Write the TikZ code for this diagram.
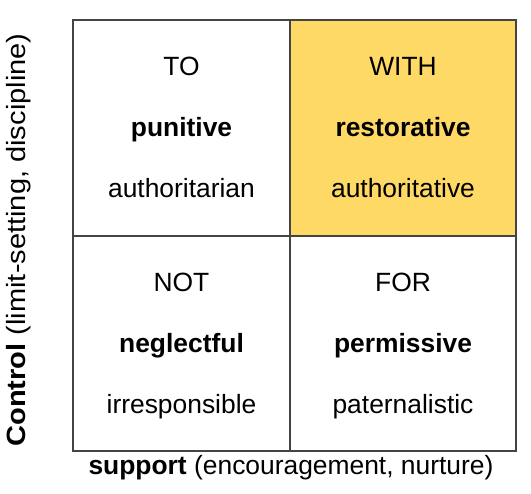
\documentclass[tikz,border=0pt]{standalone}
\usepackage{fontspec}
\setmainfont{Liberation Sans}
\usetikzlibrary{calc}
\definecolor{cellgold}{HTML}{FFD966}
\definecolor{gridline}{HTML}{444444}
\newlength{\Gxa}
\newlength{\Gya}
\newlength{\Gxb}
\newlength{\Gyb}
\newlength{\Gxc}
\newlength{\Gyc}
\setlength{\Gxa}{73pt}
\setlength{\Gya}{-20pt}
\setlength{\Gxb}{290pt}
\setlength{\Gyb}{-236pt}
\setlength{\Gxc}{516pt}
\setlength{\Gyc}{-451pt}
\tikzset{
    word/.style={font=\fontsize{26.4}{30}\selectfont, anchor=base, inner sep=0pt},
    keyword/.style={word, font=\fontsize{26.4}{30}\selectfont\bfseries}
}

\begin{document}
\begin{tikzpicture}

    \useasboundingbox (0pt,0pt) rectangle (531pt,-494pt);

    \coordinate (g0) at (\Gxa,\Gya);
    \coordinate (g1) at (\Gxb,\Gya);
    \coordinate (g2) at (\Gxc,\Gya);
    \coordinate (g3) at (\Gxa,\Gyb);
    \coordinate (g4) at (\Gxb,\Gyb);
    \coordinate (g5) at (\Gxc,\Gyb);
    \coordinate (g6) at (\Gxa,\Gyc);
    \coordinate (g7) at (\Gxb,\Gyc);
    \coordinate (g8) at (\Gxc,\Gyc);

    % the highlighted quadrant
    \fill[cellgold] (g1) rectangle (g5);

    \draw[gridline, line width=1.5pt] (g0) rectangle (g8);
    \draw[gridline, line width=1.5pt] (g1) -- (g7);
    \draw[gridline, line width=1.5pt] (g3) -- (g5);

    % top row
    \node[word]    (to)            at (181.5pt,-76pt)  {TO};
    \node[keyword] (punitive)      at (181.5pt,-137pt) {punitive};
    \node[word]    (authoritarian) at (181.5pt,-198pt) {authoritarian};
    \node[word]    (with)          at (403pt,-76pt)    {WITH};
    \node[keyword] (restorative)   at (403pt,-137pt)   {restorative};
    \node[word]    (authoritative) at (403pt,-198pt)   {authoritative};

    % bottom row
    \node[word]    (not)           at (181.5pt,-292pt) {NOT};
    \node[keyword] (neglectful)    at (181.5pt,-353pt) {neglectful};
    \node[word]    (irresponsible) at (181.5pt,-414pt) {irresponsible};
    \node[word]    (for)           at (403pt,-292pt)   {FOR};
    \node[keyword] (permissive)    at (403pt,-353pt)   {permissive};
    \node[word]    (paternalistic) at (403pt,-414pt)   {paternalistic};

    % axis labels
    \node[word] (support) at (291pt,-475pt) {\textbf{support} (encouragement, nurture)};
    \node[word, rotate=90] (control) at (25pt,-240pt)
        {\scalebox{1.1}[1]{\textbf{Control} (limit-setting, discipline)}};

\end{tikzpicture}
\end{document}
